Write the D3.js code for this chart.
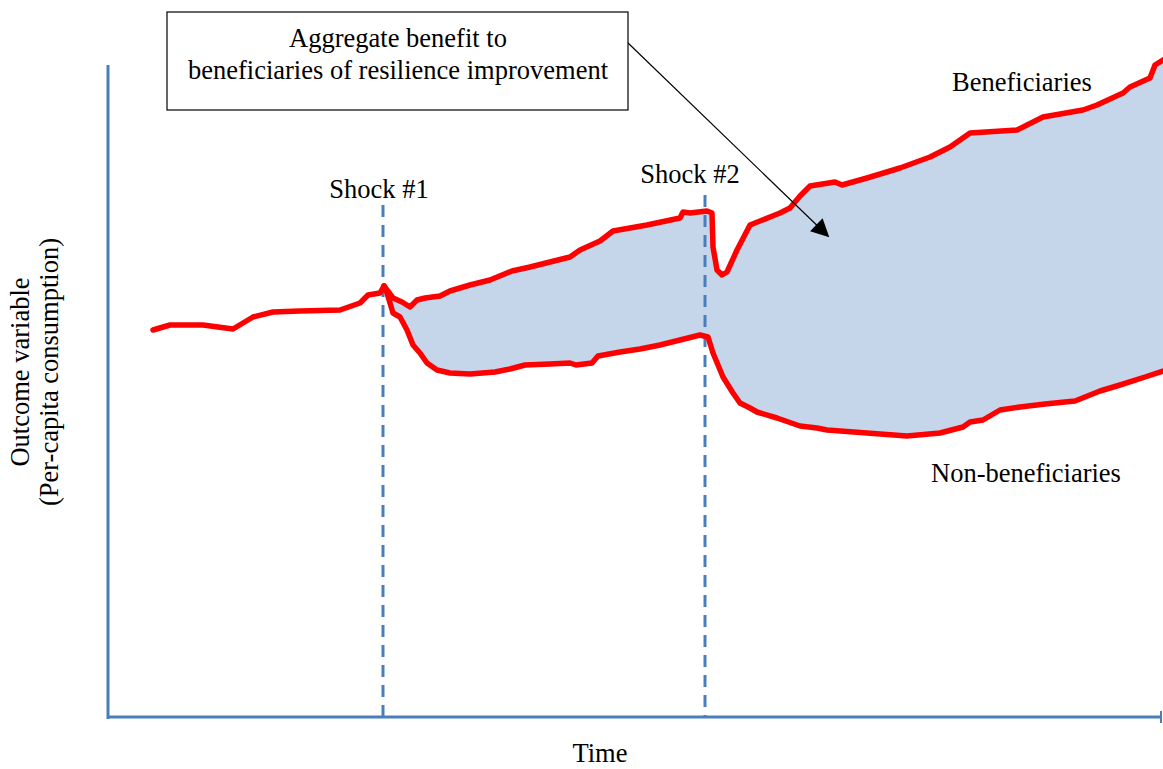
<html>
  <head>
    <meta charset="utf-8" />
    <script src="https://d3js.org/d3.v7.min.js"></script>
    <style>
      body {
        margin: 0;
        background: #fff;
      }
      text {
        font-family: "Liberation Serif", "Times New Roman", serif;
        font-size: 26.5px;
        fill: #000;
      }
    </style>
  </head>

  <body>
    <svg id="chart" width="1163" height="769"></svg>
    <script>
      // common path before the first shock [time, value]
      var preShock = [
        [4.5, 38.7], [6.2, 39.2], [9.5, 39.2], [12.5, 38.8], [14.5, 40.0],
        [16.5, 40.5], [19.2, 40.6], [23.2, 40.7], [25.2, 41.4], [26.0, 42.2],
        [27.2, 42.4], [27.6, 43.1]
      ];

      var beneficiaries = [
        [27.6, 43.1], [28.5, 41.9], [29.4, 41.5], [30.2, 41.0], [30.9, 41.7],
        [31.7, 41.9], [33.2, 42.1], [34.2, 42.6], [36.2, 43.2], [38.2, 43.7],
        [40.4, 44.6], [42.2, 45.0], [44.2, 45.5], [46.2, 46.0], [47.2, 46.7],
        [49.2, 47.6], [50.5, 48.6], [52.2, 48.9], [53.9, 49.2], [57.2, 49.9],
        [57.5, 50.5], [58.2, 50.4], [59.9, 50.6], [60.4, 50.4], [60.5, 47.0],
        [60.9, 44.7], [61.4, 44.2], [61.9, 44.5], [62.9, 46.7], [64.2, 49.2],
        [67.2, 50.4], [68.2, 50.9], [69.2, 52.1], [70.2, 53.1], [72.7, 53.5],
        [73.4, 53.2], [75.9, 53.9], [79.2, 54.9], [82.2, 56.0], [84.2, 57.0],
        [86.2, 58.4], [90.9, 58.7], [93.5, 60.0], [97.5, 60.7], [98.9, 61.2],
        [101.5, 62.4], [102.2, 63.0], [104.2, 63.9], [104.7, 65.2], [105.5, 65.7]
      ];

      var nonBeneficiaries = [
        [27.6, 43.1], [27.9, 42.4], [28.5, 40.4], [29.2, 40.0], [29.9, 38.7],
        [30.5, 37.2], [31.2, 36.4], [31.9, 35.4], [32.9, 34.7], [34.2, 34.4],
        [36.2, 34.3], [38.7, 34.5], [40.2, 34.8], [41.7, 35.2], [44.2, 35.3],
        [46.2, 35.4], [46.8, 35.2], [48.4, 35.4], [49.0, 36.1], [51.2, 36.5],
        [53.2, 36.8], [55.2, 37.2], [57.2, 37.7], [59.2, 38.2], [60.0, 38.0],
        [60.5, 36.4], [61.5, 34.0], [62.5, 32.4], [63.2, 31.4], [64.2, 30.9],
        [64.9, 30.5], [66.9, 29.9], [69.2, 29.1], [70.9, 28.9], [71.9, 28.7],
        [75.9, 28.4], [79.9, 28.1], [83.2, 28.4], [85.5, 29.0], [86.2, 29.5],
        [87.5, 29.7], [89.2, 30.7], [91.2, 31.0], [93.7, 31.3], [96.7, 31.6],
        [99.2, 32.6], [101.2, 33.2], [103.7, 34.0], [105.5, 34.6]
      ];

      var shockTimes = [27.5, 59.7];
      var shockLabels = ["Shock #1", "Shock #2"];
      var boxLines = ["Aggregate benefit to", "beneficiaries of resilience improvement"];

      var svg = d3.select("#chart");
      var blue = "#4a7ebb";

      var x = d3.scaleLinear().domain([0, 105.5]).range([108, 1163]);
      var y = d3.scaleLinear().domain([0, 65.2]).range([717, 65]);

      var line = d3
        .line()
        .x((d) => x(d[0]))
        .y((d) => y(d[1]));

      // shaded gap between the two groups
      var poly = beneficiaries.concat(nonBeneficiaries.slice().reverse());
      svg
        .append("path")
        .attr("d", line(poly) + "Z")
        .attr("fill", "#c5d5ea")
        .attr("stroke", "none");

      // shock markers
      svg
        .selectAll(".shock")
        .data(shockTimes)
        .enter()
        .append("line")
        .attr("class", "shock")
        .attr("x1", (d) => x(d))
        .attr("x2", (d) => x(d))
        .attr("y1", (d, i) => (i == 0 ? 205 : 195))
        .attr("y2", 717)
        .attr("stroke", blue)
        .attr("stroke-width", 3)
        .attr("stroke-dasharray", "12,8");

      svg
        .selectAll(".shockLabel")
        .data(shockLabels)
        .enter()
        .append("text")
        .attr("x", (d, i) => x(shockTimes[i]) - (i == 0 ? 4 : 15))
        .attr("y", (d, i) => (i == 0 ? 198 : 183))
        .attr("text-anchor", "middle")
        .text((d) => d);

      // axes
      svg
        .append("line")
        .attr("x1", 108).attr("x2", 108)
        .attr("y1", 65).attr("y2", 719)
        .attr("stroke", blue).attr("stroke-width", 3);
      svg
        .append("line")
        .attr("x1", 107).attr("x2", 1161)
        .attr("y1", 717).attr("y2", 717)
        .attr("stroke", blue).attr("stroke-width", 3);
      svg
        .append("line")
        .attr("x1", 1161).attr("x2", 1161)
        .attr("y1", 711).attr("y2", 723)
        .attr("stroke", blue).attr("stroke-width", 2);

      // outcome lines
      [preShock, beneficiaries, nonBeneficiaries].forEach(function (s) {
        svg
          .append("path")
          .attr("d", line(s))
          .attr("fill", "none")
          .attr("stroke", "#ff0000")
          .attr("stroke-width", 5.5)
          .attr("stroke-linejoin", "round")
          .attr("stroke-linecap", "round");
      });

      // labels
      svg.append("text").attr("x", 1022).attr("y", 91).attr("text-anchor", "middle").text("Beneficiaries");
      svg.append("text").attr("x", 1026).attr("y", 482).attr("text-anchor", "middle").text("Non-beneficiaries");
      svg.append("text").attr("x", 600).attr("y", 762).attr("text-anchor", "middle").text("Time");

      var yl = svg.append("text").attr("transform", "translate(29,372) rotate(-90)").attr("text-anchor", "middle");
      yl.append("tspan").attr("x", 0).attr("dy", 0).text("Outcome variable");
      yl.append("tspan").attr("x", 0).attr("dy", 29).text("(Per-capita consumption)");

      // annotation box and arrow
      svg
        .append("defs")
        .append("marker")
        .attr("id", "arrow")
        .attr("viewBox", "0 0 10 10")
        .attr("refX", 9)
        .attr("refY", 5)
        .attr("markerWidth", 24)
        .attr("markerHeight", 18)
        .attr("markerUnits", "userSpaceOnUse")
        .attr("orient", "auto")
        .append("path")
        .attr("d", "M0,0L10,5L0,10Z")
        .attr("fill", "#000");

      svg
        .append("line")
        .attr("x1", 627).attr("y1", 42)
        .attr("x2", 828).attr("y2", 236)
        .attr("stroke", "#000")
        .attr("stroke-width", 1.2)
        .attr("marker-end", "url(#arrow)");

      svg
        .append("rect")
        .attr("x", 167).attr("y", 12)
        .attr("width", 461).attr("height", 98)
        .attr("fill", "#fff")
        .attr("stroke", "#000")
        .attr("stroke-width", 1.2);

      svg
        .selectAll(".boxText")
        .data(boxLines)
        .enter()
        .append("text")
        .attr("x", 398)
        .attr("y", (d, i) => 47 + i * 32)
        .attr("text-anchor", "middle")
        .text((d) => d);
    </script>
  </body>
</html>
